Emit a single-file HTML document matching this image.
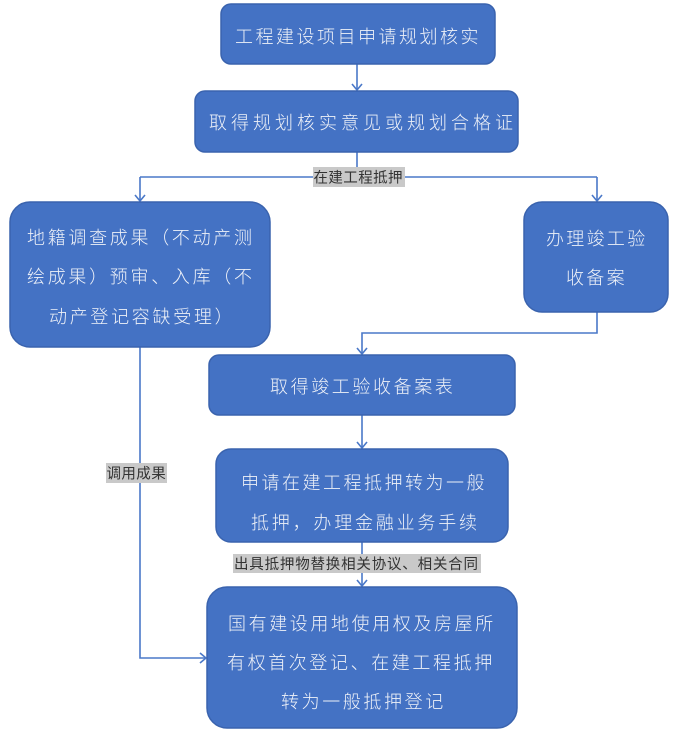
<!DOCTYPE html>
<html>
<head>
<meta charset="utf-8">
<style>
html,body{margin:0;padding:0;background:#fff;}
svg{display:block;}
.bx{fill:#4472C4;stroke:#3A63AE;stroke-width:1.5;}
.ln{fill:none;stroke:#4A78C8;stroke-width:1.6;}
.t{font-family:"Liberation Sans","Noto Sans CJK SC",sans-serif;font-size:18px;fill:#EEF1F8;font-weight:300;}
.lb{font-family:"Liberation Sans","Noto Sans CJK SC",sans-serif;font-size:14.5px;fill:#333;}
.lr{fill:#C9C9C9;}
</style>
</head>
<body>
<svg width="677" height="735" viewBox="0 0 677 735" xmlns="http://www.w3.org/2000/svg">
  <!-- connectors -->
  <path class="ln" d="M357 64 V90"/>
  <path class="ln" d="M352 84 L357 90 L362 84"/>
  <path class="ln" d="M357 152 V177 M140 177 H597 M140 177 V201 M597 177 V201"/>
  <path class="ln" d="M135 195 L140 201 L145 195"/>
  <path class="ln" d="M592 195 L597 201 L602 195"/>
  <path class="ln" d="M597 312 V333 H362 V354"/>
  <path class="ln" d="M357 348 L362 354 L367 348"/>
  <path class="ln" d="M362 415 V448"/>
  <path class="ln" d="M357 442 L362 448 L367 442"/>
  <path class="ln" d="M362 542 V586"/>
  <path class="ln" d="M357 580 L362 586 L367 580"/>
  <path class="ln" d="M140 347 V658 H206"/>
  <path class="ln" d="M200 653 L206 658 L200 663"/>

  <!-- boxes -->
  <rect class="bx" x="221" y="4" width="274" height="60" rx="10"/>
  <rect class="bx" x="195" y="91" width="323" height="61" rx="10"/>
  <rect class="bx" x="10" y="202" width="260" height="145" rx="20"/>
  <rect class="bx" x="524" y="202" width="144" height="110" rx="18"/>
  <rect class="bx" x="209" y="355" width="306" height="60" rx="10"/>
  <rect class="bx" x="216" y="449" width="292" height="93" rx="15"/>
  <rect class="bx" x="207" y="587" width="310" height="141" rx="20"/>

  <!-- labels -->
  <rect class="lr" x="313" y="167" width="92" height="20"/>
  <text class="lb" x="313.5" y="182.5" style="letter-spacing:0.4px">在建工程抵押</text>
  <rect class="lr" x="106" y="463" width="61" height="20"/>
  <text class="lb" x="106.5" y="478.5" style="letter-spacing:0.4px">调用成果</text>
  <rect class="lr" x="233" y="554" width="248" height="19"/>
  <text class="lb" x="234" y="569" style="letter-spacing:0.8px">出具抵押物替换相关协议、相关合同</text>

  <!-- box texts -->
  <text class="t" x="235" y="43" style="letter-spacing:2.5px">工程建设项目申请规划核实</text>
  <text class="t" x="209" y="129" style="letter-spacing:4px">取得规划核实意见或规划合格证</text>

  <text class="t" x="27" y="244" style="letter-spacing:2.7px">地籍调查成果（不动产测</text>
  <text class="t" x="27" y="283" style="letter-spacing:2.7px">绘成果）预审、入库（不</text>
  <text class="t" x="49" y="323" style="letter-spacing:2.7px">动产登记容缺受理）</text>

  <text class="t" x="546" y="245" style="letter-spacing:2.3px">办理竣工验</text>
  <text class="t" x="566" y="284" style="letter-spacing:2.3px">收备案</text>

  <text class="t" x="270" y="393" style="letter-spacing:2.6px">取得竣工验收备案表</text>

  <text class="t" x="241" y="489" style="letter-spacing:2.5px">申请在建工程抵押转为一般</text>
  <text class="t" x="251" y="529" style="letter-spacing:2.8px">抵押，办理金融业务手续</text>

  <text class="t" x="228" y="630" style="letter-spacing:2.6px">国有建设用地使用权及房屋所</text>
  <text class="t" x="227" y="669" style="letter-spacing:2.6px">有权首次登记、在建工程抵押</text>
  <text class="t" x="281" y="708" style="letter-spacing:2.6px">转为一般抵押登记</text>
</svg>
</body>
</html>
